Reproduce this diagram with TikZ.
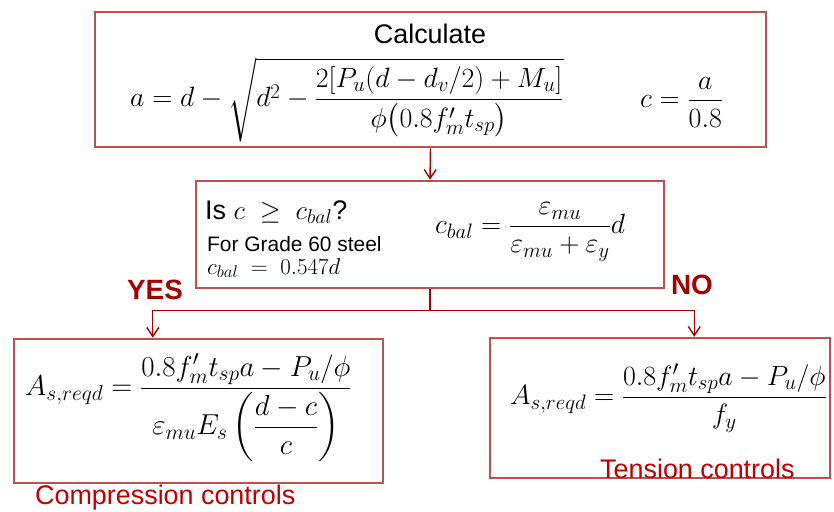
\RequirePackage{fix-cm}
\documentclass[tikz,border=0pt]{standalone}
\usepackage{amsmath,amssymb}
\usepackage{fontspec}
\setmainfont{Liberation Sans}
\usetikzlibrary{arrows.meta,calc,positioning}
\DeclareMathSizes{27}{27}{20}{15}
\DeclareMathSizes{28}{28}{21}{15}
\DeclareMathSizes{29}{29}{21.5}{15.5}
\DeclareMathSizes{23}{23}{17}{12}
\definecolor{boxred}{RGB}{192,80,77}
\definecolor{arrred}{RGB}{165,0,0}
\definecolor{txtred}{RGB}{192,0,0}
\tikzset{
    mybox/.style={draw=boxred,line width=2.6bp,inner sep=0pt},
    myline/.style={draw=arrred,line width=1.4bp},
    myarrow/.style={myline,-{Straight Barb[length=9bp,width=12bp,line width=1.4bp]}},
    mylabel/.style={font=\fontsize{27}{31}\selectfont,text=txtred},
    mytag/.style={font=\fontsize{28}{32}\selectfont\bfseries,text=arrred},
    mysmall/.style={font=\fontsize{21}{25}\selectfont},
    myform/.style={anchor=west,inner sep=0pt,font=\fontsize{28}{32}\selectfont},
    every node/.style={font=\fontsize{27}{31}\selectfont}
}

\begin{document}
\begin{tikzpicture}[x=1bp,y=-1bp]
  \useasboundingbox (0,0) rectangle (834,512);
  % boxes
  \node[mybox,minimum width=671bp,minimum height=135bp] (calc) at (430.5,79.5) {};
  \node[mybox,minimum width=468bp,minimum height=107bp] (check) at (430,234.5) {};
  \node[mybox,minimum width=369bp,minimum height=144bp] (comp) at (198.5,411) {};
  \node[mybox,minimum width=340bp,minimum height=140bp] (tens) at (660,408) {};
  % top box
  \node (calctitle) at (430,34) {Calculate};
  \node[myform] (aform) at (130,100)
    {$a = d - \sqrt{d^2 - \dfrac{2[P_u(d-d_v/2)+M_u]}{\phi\bigl(0.8f'_m t_{sp}\bigr)}}$};
  \node[myform] (cform) at (640,102) {$c = \dfrac{a}{0.8}$};
  % decision box
  \node[anchor=west,inner sep=0pt] (isc) at (205,212) {Is $c \;\ge\; c_{bal}$?};
  \node[mysmall,anchor=west,inner sep=0pt] (grade) at (207,244) {For Grade 60 steel};
  \node[anchor=west,inner sep=0pt,font=\fontsize{23}{27}\selectfont] (cbal) at (207,268) {$c_{bal} \;=\; 0.547d$};
  \node[myform] (cbalform) at (435,232)
    {$c_{bal} = \dfrac{\varepsilon_{mu}}{\varepsilon_{mu}+\varepsilon_y}d$};
  % results
  \node[myform,font=\fontsize{29}{33}\selectfont] (compform) at (25,408)
    {$A_{s,reqd} = \dfrac{0.8f'_m t_{sp}a - P_u/\phi}{\varepsilon_{mu}E_s\left(\dfrac{d-c}{c}\right)}$};
  \node[myform] (tensform) at (510,398)
    {$A_{s,reqd} = \dfrac{0.8f'_m t_{sp}a - P_u/\phi}{f_y}$};
  \node[mylabel,anchor=west,inner sep=0pt] (complbl) at (35,498) {Compression controls};
  \node[mylabel,anchor=west,inner sep=0pt] (tenslbl) at (600,469) {Tension controls};
  \node[mytag] (yes) at (155,290) {YES};
  \node[mytag] (no) at (692,285) {NO};
  % connectors
  \draw[myarrow] (calc.south) -- (check.north);
  \draw[myline] (check.south) -- ++(0,21) coordinate (split);
  \draw[myarrow] (split) -| ($(comp.north west)!0.377!(comp.north east)$);
  \draw[myarrow] (split) -| ($(tens.north west)!0.6!(tens.north east)$);
\end{tikzpicture}
\end{document}
